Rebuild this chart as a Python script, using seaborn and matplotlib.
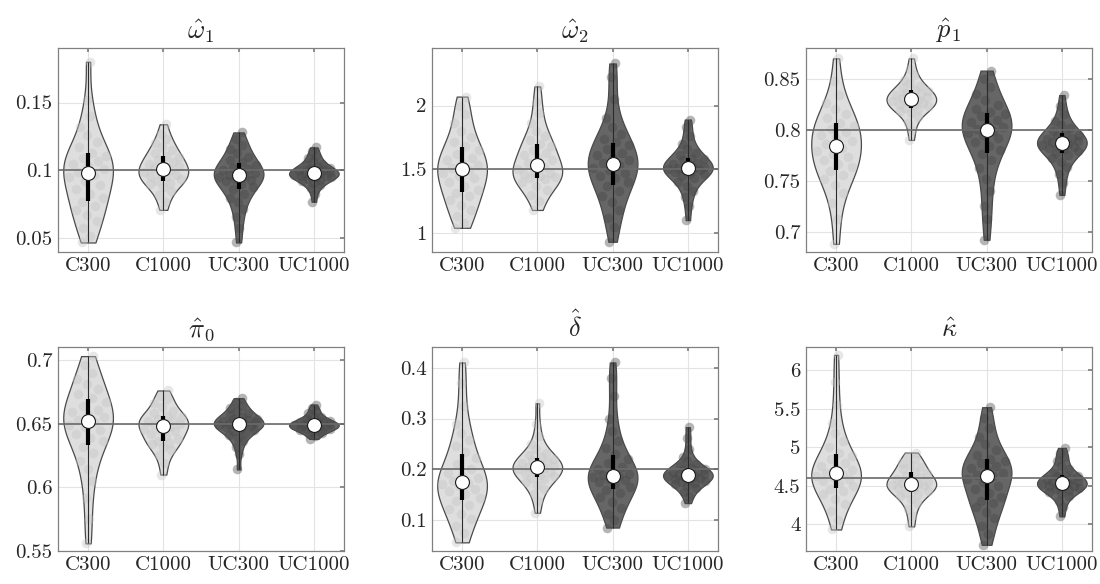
import numpy as np
import pandas as pd
import matplotlib
matplotlib.use('Agg')
import matplotlib.pyplot as plt
from matplotlib.ticker import FuncFormatter
import seaborn as sns

'''Violinos das estimativas por cenário (C300, C1000, UC300, UC1000)'''

grupos = ['C300', 'C1000', 'UC300', 'UC1000']

titulos = [r'$\hat{\omega}_1$', r'$\hat{\omega}_2$', r'$\hat{p}_1$',
           r'$\hat{\pi}_0$', r'$\hat{\delta}$', r'$\hat{\kappa}$']

valores_reais = [0.1, 1.5, 0.8, 0.65, 0.2, 4.6]

limites_y = [(0.04, 0.19), (0.85, 2.45), (0.68, 0.88),
             (0.55, 0.71), (0.04, 0.44), (3.65, 6.3)]

ticks_y = [[0.05, 0.1, 0.15], [1, 1.5, 2], [0.7, 0.75, 0.8, 0.85],
           [0.55, 0.6, 0.65, 0.7], [0.1, 0.2, 0.3, 0.4], [4, 4.5, 5, 5.5, 6]]

# omega_1
w1_c300 = [0.047, 0.052, 0.058, 0.063, 0.067, 0.071, 0.074, 0.077, 0.080, 0.083, 0.086, 0.089, 0.092, 0.095, 0.097,
           0.099, 0.101, 0.103, 0.105, 0.107, 0.109, 0.111, 0.113, 0.117, 0.121, 0.126, 0.132, 0.140, 0.152, 0.180]
w1_c1000 = [0.071, 0.077, 0.082, 0.085, 0.088, 0.090, 0.091, 0.092, 0.094, 0.095, 0.096, 0.097, 0.098, 0.099, 0.100,
            0.102, 0.103, 0.104, 0.105, 0.106, 0.108, 0.110, 0.111, 0.113, 0.115, 0.117, 0.120, 0.123, 0.127, 0.134]
w1_uc300 = [0.047, 0.058, 0.066, 0.072, 0.077, 0.080, 0.083, 0.086, 0.088, 0.090, 0.092, 0.093, 0.094, 0.095, 0.096,
            0.097, 0.098, 0.099, 0.100, 0.101, 0.102, 0.104, 0.106, 0.108, 0.110, 0.113, 0.116, 0.119, 0.123, 0.128]
w1_uc1000 = [0.077, 0.083, 0.087, 0.089, 0.091, 0.092, 0.093, 0.094, 0.095, 0.095, 0.096, 0.096, 0.097, 0.097, 0.098,
             0.098, 0.099, 0.099, 0.100, 0.100, 0.101, 0.102, 0.103, 0.104, 0.105, 0.107, 0.109, 0.111, 0.114, 0.117]

# omega_2
w2_c300 = [1.04, 1.08, 1.13, 1.18, 1.22, 1.26, 1.29, 1.31, 1.34, 1.37, 1.40, 1.43, 1.45, 1.47, 1.49,
           1.51, 1.53, 1.55, 1.57, 1.59, 1.62, 1.65, 1.68, 1.71, 1.75, 1.80, 1.86, 1.93, 2.00, 2.07]
w2_c1000 = [1.18, 1.25, 1.30, 1.34, 1.37, 1.40, 1.42, 1.43, 1.44, 1.45, 1.46, 1.47, 1.48, 1.50, 1.52,
            1.55, 1.57, 1.59, 1.61, 1.63, 1.65, 1.68, 1.70, 1.73, 1.76, 1.80, 1.86, 1.94, 2.03, 2.15]
w2_uc300 = [0.93, 1.05, 1.12, 1.18, 1.24, 1.29, 1.33, 1.37, 1.40, 1.43, 1.45, 1.47, 1.49, 1.51, 1.53,
            1.55, 1.57, 1.59, 1.61, 1.63, 1.66, 1.69, 1.71, 1.74, 1.78, 1.83, 1.90, 2.05, 2.22, 2.33]
w2_uc1000 = [1.10, 1.21, 1.28, 1.33, 1.37, 1.40, 1.43, 1.45, 1.46, 1.47, 1.48, 1.49, 1.50, 1.50, 1.51,
             1.51, 1.52, 1.53, 1.54, 1.55, 1.57, 1.58, 1.59, 1.61, 1.63, 1.66, 1.70, 1.76, 1.83, 1.89]

# p_1
p1_c300 = [0.688, 0.712, 0.728, 0.738, 0.746, 0.752, 0.756, 0.759, 0.763, 0.766, 0.770, 0.773, 0.776, 0.779, 0.782,
           0.786, 0.789, 0.792, 0.795, 0.798, 0.801, 0.804, 0.807, 0.811, 0.815, 0.820, 0.826, 0.834, 0.848, 0.870]
p1_c1000 = [0.790, 0.800, 0.807, 0.812, 0.816, 0.818, 0.820, 0.821, 0.823, 0.824, 0.825, 0.826, 0.827, 0.828, 0.829,
            0.831, 0.832, 0.833, 0.834, 0.835, 0.836, 0.838, 0.839, 0.841, 0.843, 0.846, 0.849, 0.854, 0.860, 0.870]
p1_uc300 = [0.692, 0.712, 0.725, 0.740, 0.752, 0.762, 0.770, 0.776, 0.780, 0.784, 0.788, 0.792, 0.795, 0.797, 0.799,
            0.801, 0.803, 0.805, 0.808, 0.810, 0.813, 0.815, 0.817, 0.820, 0.824, 0.829, 0.835, 0.842, 0.850, 0.858]
p1_uc1000 = [0.736, 0.748, 0.757, 0.763, 0.768, 0.772, 0.775, 0.777, 0.779, 0.781, 0.782, 0.783, 0.784, 0.785, 0.786,
             0.788, 0.789, 0.790, 0.791, 0.792, 0.794, 0.795, 0.797, 0.799, 0.802, 0.805, 0.809, 0.815, 0.823, 0.834]

# pi_0
pi0_c300 = [0.556, 0.575, 0.592, 0.605, 0.614, 0.621, 0.627, 0.632, 0.636, 0.639, 0.642, 0.645, 0.647, 0.649, 0.651,
            0.653, 0.655, 0.657, 0.659, 0.661, 0.664, 0.667, 0.670, 0.673, 0.677, 0.681, 0.685, 0.690, 0.696, 0.703]
pi0_c1000 = [0.610, 0.619, 0.625, 0.629, 0.632, 0.634, 0.635, 0.636, 0.638, 0.640, 0.642, 0.644, 0.645, 0.646, 0.647,
             0.649, 0.650, 0.651, 0.652, 0.653, 0.654, 0.655, 0.656, 0.658, 0.660, 0.663, 0.666, 0.669, 0.672, 0.676]
pi0_uc300 = [0.614, 0.626, 0.632, 0.636, 0.639, 0.641, 0.643, 0.644, 0.645, 0.646, 0.647, 0.648, 0.649, 0.649, 0.650,
             0.650, 0.651, 0.651, 0.652, 0.653, 0.654, 0.654, 0.655, 0.657, 0.658, 0.660, 0.662, 0.664, 0.667, 0.670]
pi0_uc1000 = [0.638, 0.640, 0.642, 0.643, 0.644, 0.645, 0.645, 0.646, 0.646, 0.647, 0.647, 0.648, 0.648, 0.649, 0.649,
              0.649, 0.650, 0.650, 0.651, 0.651, 0.652, 0.652, 0.653, 0.654, 0.655, 0.656, 0.658, 0.660, 0.662, 0.665]

# delta
d_c300 = [0.057, 0.075, 0.090, 0.102, 0.113, 0.122, 0.130, 0.138, 0.145, 0.151, 0.157, 0.162, 0.167, 0.171, 0.174,
          0.178, 0.183, 0.188, 0.194, 0.201, 0.210, 0.222, 0.234, 0.246, 0.258, 0.272, 0.290, 0.325, 0.370, 0.410]
d_c1000 = [0.115, 0.138, 0.152, 0.162, 0.170, 0.176, 0.181, 0.184, 0.187, 0.190, 0.193, 0.196, 0.199, 0.201, 0.203,
           0.205, 0.207, 0.209, 0.212, 0.215, 0.218, 0.221, 0.224, 0.228, 0.233, 0.240, 0.250, 0.265, 0.290, 0.330]
d_uc300 = [0.086, 0.100, 0.112, 0.124, 0.136, 0.146, 0.154, 0.160, 0.166, 0.171, 0.175, 0.179, 0.182, 0.185, 0.187,
           0.189, 0.192, 0.196, 0.200, 0.205, 0.212, 0.220, 0.230, 0.242, 0.256, 0.275, 0.300, 0.345, 0.380, 0.410]
d_uc1000 = [0.134, 0.147, 0.156, 0.163, 0.168, 0.171, 0.174, 0.176, 0.178, 0.180, 0.182, 0.184, 0.186, 0.187, 0.188,
            0.190, 0.191, 0.193, 0.195, 0.197, 0.199, 0.201, 0.203, 0.206, 0.210, 0.216, 0.225, 0.240, 0.262, 0.283]

# kappa
k_c300 = [3.93, 4.05, 4.17, 4.26, 4.33, 4.39, 4.43, 4.46, 4.50, 4.53, 4.56, 4.59, 4.61, 4.63, 4.65,
          4.67, 4.70, 4.73, 4.76, 4.80, 4.84, 4.88, 4.93, 5.00, 5.08, 5.18, 5.32, 5.55, 5.85, 6.20]
k_c1000 = [3.97, 4.10, 4.20, 4.27, 4.32, 4.36, 4.39, 4.41, 4.43, 4.45, 4.47, 4.49, 4.50, 4.51, 4.52,
           4.53, 4.55, 4.57, 4.59, 4.61, 4.63, 4.66, 4.68, 4.71, 4.74, 4.77, 4.80, 4.84, 4.88, 4.93]
k_uc300 = [3.73, 3.87, 3.98, 4.08, 4.16, 4.22, 4.27, 4.30, 4.35, 4.40, 4.45, 4.50, 4.55, 4.59, 4.62,
           4.64, 4.67, 4.70, 4.73, 4.76, 4.79, 4.82, 4.85, 4.90, 4.96, 5.04, 5.13, 5.25, 5.38, 5.52]
k_uc1000 = [4.10, 4.22, 4.30, 4.36, 4.40, 4.42, 4.44, 4.45, 4.47, 4.48, 4.49, 4.50, 4.51, 4.52, 4.53,
            4.55, 4.56, 4.57, 4.59, 4.60, 4.62, 4.63, 4.64, 4.67, 4.71, 4.76, 4.82, 4.87, 4.93, 4.99]

dados_paineis = [
    [w1_c300, w1_c1000, w1_uc300, w1_uc1000],
    [w2_c300, w2_c1000, w2_uc300, w2_uc1000],
    [p1_c300, p1_c1000, p1_uc300, p1_uc1000],
    [pi0_c300, pi0_c1000, pi0_uc300, pi0_uc1000],
    [d_c300, d_c1000, d_uc300, d_uc1000],
    [k_c300, k_c1000, k_uc300, k_uc1000],
]

# Cores: cenários C claros, UC escuros
cor_violino = {'C300': '#dedede', 'C1000': '#dedede', 'UC300': '#666666', 'UC1000': '#666666'}
cor_pontos = {'C300': '#c4c4c4', 'C1000': '#c4c4c4', 'UC300': '#474747', 'UC1000': '#474747'}

# Posições dos eixos (fração da figura)
lefts = [0.0527, 0.3927, 0.7327]
bottoms = [0.5685, 0.0565]
largura, altura = 0.26, 0.349

largura_violino = 0.66
ajuste_bw = 0.85

sns.set_theme(style='whitegrid')
plt.rcParams['font.family'] = ['cmr10', 'DejaVu Serif']
plt.rcParams['mathtext.fontset'] = 'cm'
plt.rcParams['axes.formatter.use_mathtext'] = True
plt.rcParams['axes.unicode_minus'] = False


def montar_df(listas):
    linhas = []
    for grupo, vals in zip(grupos, listas):
        for v in vals:
            linhas.append({'grupo': grupo, 'valor': v})
    return pd.DataFrame(linhas)


# Deslocamento horizontal dos pontos proporcional à densidade (sem aleatoriedade)
def deslocamento_pontos(vals):
    v = np.asarray(vals, dtype=float)
    bw = ajuste_bw * v.std(ddof=1) * len(v) ** (-1 / 5)
    grade = np.linspace(v.min(), v.max(), 200)
    dens_grade = np.exp(-0.5 * ((grade[:, None] - v[None, :]) / bw) ** 2).sum(axis=1)
    dens = np.exp(-0.5 * ((v[:, None] - v[None, :]) / bw) ** 2).sum(axis=1)
    frac = (np.arange(len(v)) * 0.618034) % 1 * 2 - 1
    return dens / dens_grade.max() * (largura_violino / 2) * 0.85 * frac


def desenhar_painel(ax, df, titulo, valor_real, ylim, yticks):
    sns.violinplot(data=df, x='grupo', y='valor', hue='grupo', order=grupos, hue_order=grupos,
                   palette=cor_violino, cut=0, inner=None, density_norm='width', width=largura_violino,
                   bw_adjust=ajuste_bw, linewidth=0.9, linecolor='#4a4a4a', saturation=1,
                   legend=False, ax=ax)

    for i, grupo in enumerate(grupos):
        vals = df.loc[df['grupo'] == grupo, 'valor'].to_numpy()
        dx = deslocamento_pontos(vals)
        ax.scatter(i + dx, vals, s=48, color=cor_pontos[grupo], alpha=0.4, linewidths=0, zorder=3)

        # Whisker, IQR e mediana
        q1, med, q3 = np.percentile(vals, [25, 50, 75])
        ax.vlines(i, vals.min(), vals.max(), color='#2b2b2b', lw=0.8, zorder=4)
        ax.vlines(i, q1, q3, color='black', lw=3.0, zorder=5)
        ax.scatter([i], [med], s=100, color='white', edgecolors='#1a1a1a', linewidths=0.8, zorder=6)

    ax.axhline(valor_real, color='#6a6a6a', lw=1.2, zorder=4)

    ax.set_xlim(-0.4, 3.4)
    ax.set_ylim(*ylim)
    ax.set_yticks(yticks)
    ax.yaxis.set_major_formatter(FuncFormatter(lambda v, p: f'{v:g}'))
    ax.set_xlabel('')
    ax.set_ylabel('')
    ax.set_title(titulo, fontsize=19, pad=7)
    ax.grid(True, color='#e3e3e3', lw=0.8)
    ax.set_axisbelow(True)
    for sp in ax.spines.values():
        sp.set_visible(True)
        sp.set_color('#808080')
        sp.set_linewidth(0.9)
    ax.tick_params(axis='both', direction='in', length=3, color='#808080',
                   labelsize=15, labelcolor='#262626', top=True, right=True, pad=4)


fig = plt.figure(figsize=(11, 5.84), dpi=100)

for k in range(6):
    linha, coluna = divmod(k, 3)
    ax = fig.add_axes([lefts[coluna], bottoms[linha], largura, altura])
    df = montar_df(dados_paineis[k])
    desenhar_painel(ax, df, titulos[k], valores_reais[k], limites_y[k], ticks_y[k])

fig.savefig('out.png', dpi=100)
